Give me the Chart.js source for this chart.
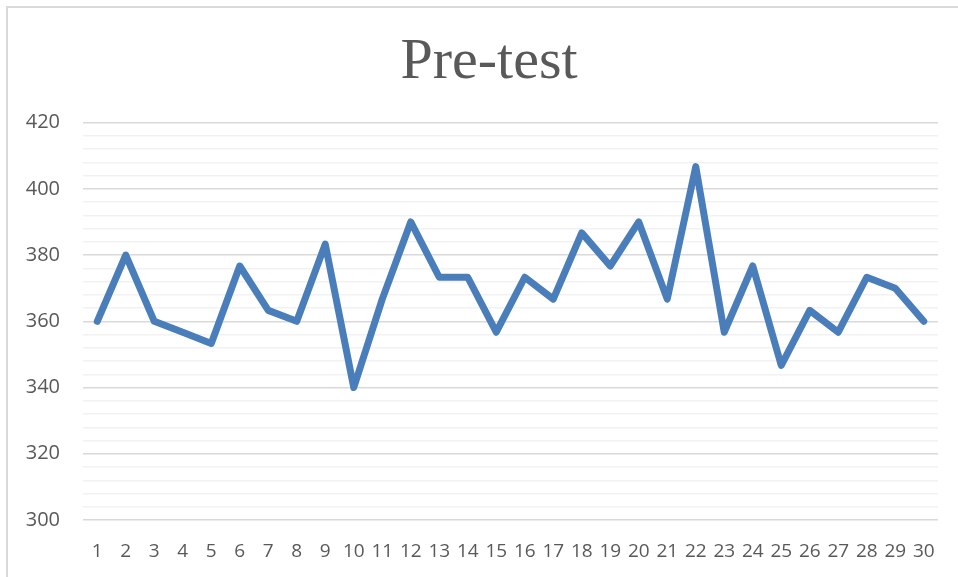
<!DOCTYPE html>
<html>
<head>
<meta charset="utf-8">
<script src="https://cdn.jsdelivr.net/npm/chart.js@4.4.0/dist/chart.umd.min.js"></script>
<style>
    html, body { margin: 0; padding: 0; background: #fff; }
    #wrap { position: relative; width: 958px; height: 577px; overflow: hidden; }
    #frame { position: absolute; left: 6px; top: 6px; width: 2000px; height: 2000px;
             border-left: 2px solid #d9d9d9; border-top: 2px solid #d9d9d9; }
    #chart { position: absolute; left: 0; top: 0; }
</style>
</head>
<body>
<div id="wrap">
    <div id="frame"></div>
    <canvas id="chart" width="978" height="577"></canvas>
</div>
<script>
// Pre-test scores per student
const students = ['1','2','3','4','5','6','7','8','9','10','11','12','13','14','15',
                  '16','17','18','19','20','21','22','23','24','25','26','27','28','29','30'];
const scores = [360, 380, 360, 356.7, 353.3, 376.7, 363.3, 360, 383.3, 340,
                366.7, 390, 373.3, 373.3, 356.7, 373.3, 366.7, 386.7, 376.7, 390,
                366.7, 406.7, 356.7, 376.7, 346.7, 363.3, 356.7, 373.3, 370, 360];
const yMin = 300;
const yMax = 420;
const yLabelStep = 20;

const ctx = document.getElementById('chart').getContext('2d');

new Chart(ctx, {
    type: 'line',
    data: {
        labels: students,
        datasets: [{
            label: 'Pre-test',
            data: scores,
            borderColor: '#4a7ebb',
            borderWidth: 7,
            borderJoinStyle: 'round',
            borderCapStyle: 'round',
            pointRadius: 0,
            tension: 0,
            fill: false,
        }],
    },
    options: {
        responsive: false,
        animation: false,
        layout: { padding: 0 },
        plugins: {
            legend: { display: false },
            tooltip: { enabled: false },
            title: {
                display: true,
                text: 'Pre-test',
                color: '#595959',
                font: { family: 'Liberation Serif', size: 58, weight: 'normal' },
                padding: { top: 28, bottom: 25 },
            },
        },
        scales: {
            x: {
                offset: true,
                grid: { display: false, drawTicks: false },
                border: { display: false },
                ticks: {
                    color: '#595959',
                    font: { family: 'Open Sans', size: 19 },
                    padding: 20,
                    maxRotation: 0,
                    autoSkip: false,
                },
                afterFit: (scale) => { scale.height = 57; },
            },
            y: {
                min: yMin,
                max: yMax,
                grid: {
                    drawTicks: false,
                    lineWidth: 1.5,
                    color: (c) => (c.tick && c.tick.value % yLabelStep === 0) ? '#d9d9d9' : '#f2f2f2',
                },
                border: { display: false },
                ticks: {
                    stepSize: 4,
                    autoSkip: false,
                    color: '#595959',
                    font: { family: 'Open Sans', size: 20 },
                    padding: 23,
                    callback: (v) => v % yLabelStep === 0 ? v : '',
                },
                afterFit: (scale) => { scale.width = 83; },
            },
            // empty right-hand spacer so the title sits where the original has it
            spacer: {
                type: 'linear',
                position: 'right',
                grid: { display: false, drawTicks: false },
                border: { display: false },
                ticks: { display: false },
                afterFit: (scale) => { scale.width = 40; },
            },
        },
    },
});
</script>
</body>
</html>
